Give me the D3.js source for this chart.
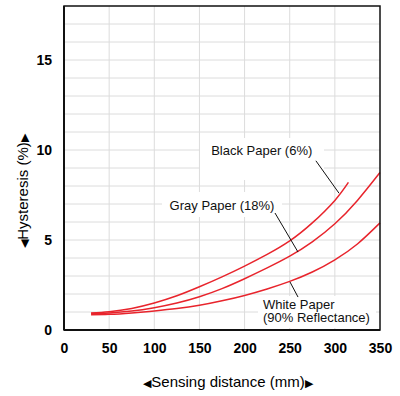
<!DOCTYPE html>
<html><head><meta charset="utf-8">
<script src="https://cdn.jsdelivr.net/npm/d3@7/dist/d3.min.js"></script>
<style>
html,body{margin:0;padding:0;background:#fff;}
svg{display:block;font-family:"Liberation Sans",Arial,sans-serif;}
</style></head>
<body><svg id="c" width="400" height="396"></svg>
<script>
const distance = [30, 50, 75, 100, 125, 150, 175, 200, 225, 250, 275, 300, 325, 350];
const blackDist = [30, 50, 75, 100, 125, 150, 175, 200, 225, 250, 275, 300, 315];
const blackPaper = [0.95, 1.02, 1.2, 1.5, 1.9, 2.4, 2.95, 3.55, 4.2, 4.95, 5.95, 7.2, 8.2];
const grayPaper = [0.92, 0.95, 1.05, 1.24, 1.5, 1.85, 2.3, 2.85, 3.45, 4.1, 4.9, 5.9, 7.2, 8.75];
const whitePaper = [0.85, 0.87, 0.95, 1.06, 1.19, 1.37, 1.62, 1.92, 2.28, 2.7, 3.22, 3.9, 4.78, 5.95];
const xTicks = [0, 50, 100, 150, 200, 250, 300, 350];
const yTicks = [0, 5, 10, 15];
const xTitle = ["\u25C0", "Sensing distance (mm)", "\u25B6"];
const yTitle = ["\u25C0", "Hysteresis (%)", "\u25B6"];
const labelTexts = [["Black Paper (6%)"], ["Gray Paper (18%)"], ["White Paper", "(90% Reflectance)"]];

const svg = d3.select("#c");
const x = d3.scaleLinear().domain([0, 350]).range([64, 380]);
const y = d3.scaleLinear().domain([0, 18]).range([330, 6]);

// grid
const g = svg.append("g");
g.selectAll(".hg").data(d3.range(1, 18)).enter().append("line")
  .attr("x1", x(0)).attr("x2", x(350)).attr("y1", d => y(d)).attr("y2", d => y(d))
  .attr("stroke", "#dcdcdc").attr("stroke-width", 1);
g.selectAll(".vg").data(d3.range(50, 350, 50)).enter().append("line")
  .attr("y1", y(0)).attr("y2", y(18)).attr("x1", d => x(d)).attr("x2", d => x(d))
  .attr("stroke", "#dcdcdc").attr("stroke-width", 1);

// curves
const line = d3.line().x(d => x(d[0])).y(d => y(d[1])).curve(d3.curveNatural);
const series = [
  blackDist.map((d, i) => [d, blackPaper[i]]),
  distance.map((d, i) => [d, grayPaper[i]]),
  distance.map((d, i) => [d, whitePaper[i]])
];
svg.selectAll(".s").data(series).enter().append("path")
  .attr("d", line).attr("fill", "none").attr("stroke", "#e8242c").attr("stroke-width", 1.5);

// label boxes & leaders (annotation layout in data units)
const ann = [
  {cx: 219, cy: 9.95, anchor: "middle", box: [200, 324, 138, 180], lead: [[279, 9.4], [304.6, 7.6]]},
  {cx: 175, cy: 6.94, anchor: "middle", box: [162, 282, 192, 217], lead: [[233.7, 6.5], [259.2, 4.33]]},
  {cx: 220.4, cy: 1.44, anchor: "start", box: [258, 376, 296, 328], lead: [[250.3, 2.67], [259.2, 1.83]]}
];
ann.forEach((a, i) => {
  svg.append("rect").attr("x", a.box[0]).attr("y", a.box[2])
    .attr("width", a.box[1] - a.box[0]).attr("height", a.box[3] - a.box[2]).attr("fill", "#fff");
});
ann.forEach((a, i) => {
  svg.append("line").attr("x1", x(a.lead[0][0])).attr("y1", y(a.lead[0][1]))
    .attr("x2", x(a.lead[1][0])).attr("y2", y(a.lead[1][1]))
    .attr("stroke", "#111").attr("stroke-width", 1);
  const t = svg.append("text").attr("x", x(a.cx)).attr("y", y(a.cy))
    .attr("text-anchor", a.anchor).attr("font-size", 13).attr("fill", "#111");
  labelTexts[i].forEach((s, j) => {
    t.append("tspan").attr("x", x(a.cx)).attr("dy", j === 0 ? "0.35em" : "1.05em").text(s);
  });
});

// frame
svg.append("rect").attr("x", x(0)).attr("y", y(18)).attr("width", x(350) - x(0)).attr("height", y(0) - y(18))
  .attr("fill", "none").attr("stroke", "#111").attr("stroke-width", 1.5);
svg.append("line").attr("x1", x(0)).attr("x2", x(350)).attr("y1", y(0)).attr("y2", y(0)).attr("stroke", "#111").attr("stroke-width", 2);
svg.append("line").attr("x1", x(0)).attr("x2", x(0)).attr("y1", y(0)).attr("y2", y(18)).attr("stroke", "#111").attr("stroke-width", 2);

// axes (tick labels only)
const xa = svg.append("g").attr("transform", `translate(0,${y(0)})`)
  .call(d3.axisBottom(x).tickValues(xTicks).tickSize(0).tickPadding(13));
const ya = svg.append("g").attr("transform", `translate(${x(0)},0)`)
  .call(d3.axisLeft(y).tickValues(yTicks).tickSize(0).tickPadding(12));
[xa, ya].forEach(a => {
  a.select(".domain").remove();
  a.selectAll("text").attr("font-size", 14).attr("font-weight", "bold")
    .attr("font-family", "'Liberation Sans', Arial, sans-serif").attr("fill", "#000");
});

// titles
function title(sel, parts) {
  sel.append("tspan").attr("font-size", 11).text(parts[0]);
  sel.append("tspan").attr("font-size", 15).text(parts[1]);
  sel.append("tspan").attr("font-size", 11).text(parts[2]);
}
title(svg.append("text").attr("x", 228).attr("y", 387).attr("text-anchor", "middle").attr("fill", "#000"), xTitle);
title(svg.append("text").attr("transform", "translate(28,191) rotate(-90)")
  .attr("text-anchor", "middle").attr("fill", "#000"), yTitle);
</script></body></html>
